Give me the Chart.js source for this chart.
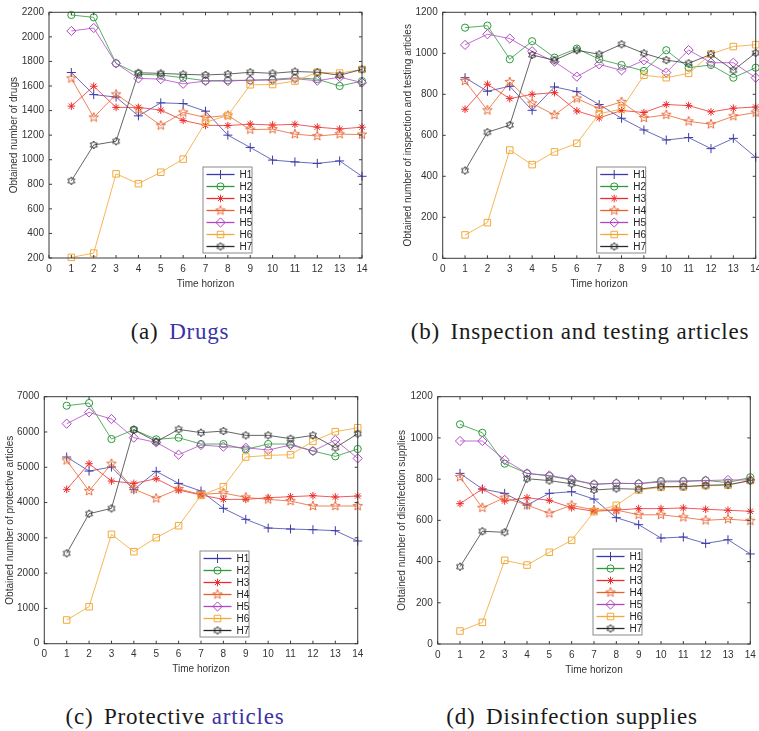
<!DOCTYPE html>
<html><head><meta charset="utf-8">
<script src="https://cdn.jsdelivr.net/npm/chart.js@4.4.1/dist/chart.umd.min.js"></script>
<style>
html,body{margin:0;padding:0;background:#fff;}
body{width:759px;height:731px;position:relative;overflow:hidden;}
canvas{position:absolute;}
.cap{position:absolute;font-family:"Liberation Serif","Times New Roman","DejaVu Serif",serif;font-size:23px;letter-spacing:0.8px;color:#1a1a1a;white-space:nowrap;transform:translateX(-50%);line-height:1;}
.cap .gap{display:inline-block;width:4px;}
.cap .blue{color:#3b32a8;}
</style></head><body>
<canvas id="ca" width="380" height="300" style="left:0px;top:0px"></canvas>
<canvas id="cb" width="400" height="300" style="left:380px;top:0px"></canvas>
<canvas id="cc" width="380" height="310" style="left:0px;top:380px"></canvas>
<canvas id="cd" width="400" height="310" style="left:380px;top:380px"></canvas>
<div class="cap" style="left:180px;top:320px">(a)<span class="gap"></span> <span class="blue">Drugs</span></div>
<div class="cap" style="left:580px;top:320px">(b)<span class="gap"></span> Inspection and testing articles</div>
<div class="cap" style="left:175px;top:705px">(c)<span class="gap"></span> Protective <span class="blue">articles</span></div>
<div class="cap" style="left:572px;top:705px">(d)<span class="gap"></span> Disinfection supplies</div>
<script>
// ---------- data ----------
const timeSteps = [1,2,3,4,5,6,7,8,9,10,11,12,13,14];
const seriesNames = ['H1','H2','H3','H4','H5','H6','H7'];
const xTickLabels = [0,1,2,3,4,5,6,7,8,9,10,11,12,13,14];

// (a) Drugs
const drugsH1 = [1710,1530,1510,1357,1463,1457,1395,1200,1100,997,982,970,990,865];
const drugsH2 = [2178,2159,1784,1697,1689,1667,1643,1646,1646,1654,1667,1656,1600,1640];
const drugsH3 = [1436,1598,1426,1426,1404,1320,1280,1278,1290,1282,1288,1265,1250,1265];
const drugsH4 = [1662,1344,1532,1409,1279,1385,1344,1360,1245,1249,1208,1193,1208,1205];
const drugsH5 = [2048,2072,1784,1662,1656,1618,1640,1640,1648,1648,1659,1643,1672,1628];
const drugsH6 = [205,240,885,805,898,1005,1305,1360,1610,1612,1640,1712,1705,1735];
const drugsH7 = [828,1120,1150,1708,1703,1695,1690,1697,1712,1703,1718,1712,1688,1735];
const drugsYTicks = [200,400,600,800,1000,1200,1400,1600,1800,2000,2200];

// (b) Inspection and testing articles
const inspH1 = [881,815,839,722,836,813,750,683,626,577,589,535,585,493];
const inspH2 = [1125,1135,971,1059,979,1023,971,943,914,1015,930,943,881,930];
const inspH3 = [727,849,779,800,808,719,685,721,711,750,745,714,732,738];
const inspH4 = [865,722,860,756,699,780,730,763,685,700,668,654,693,711];
const inspH5 = [1041,1093,1072,1010,959,886,946,917,966,906,1016,954,954,881];
const inspH6 = [114,174,528,457,519,561,705,728,893,881,902,997,1033,1042];
const inspH7 = [428,615,650,992,966,1015,995,1044,1000,967,951,995,917,1002];
const inspYTicks = [0,200,400,600,800,1000,1200];

// (c) Protective articles
const protH1 = [5290,4893,5007,4364,4884,4544,4327,3836,3524,3278,3250,3231,3203,2910];
const protH2 = [6745,6820,5800,6065,5791,5838,5659,5659,5507,5659,5659,5460,5309,5517];
const protH3 = [4374,5101,4610,4544,4676,4355,4213,4090,4090,4138,4166,4194,4157,4185];
const protH4 = [5196,4327,5101,4383,4119,4383,4232,4270,4147,4090,4043,3902,3902,3902];
const protH5 = [6235,6556,6367,5838,5706,5356,5630,5583,5555,5489,5630,5460,5772,5252];
const protH6 = [671,1049,3099,2607,3004,3344,4204,4449,5290,5337,5356,5734,6008,6121];
const protH7 = [2560,3684,3835,6065,5725,6074,5980,6027,5904,5904,5810,5904,5555,5951];
const protYTicks = [0,1000,2000,3000,4000,5000,6000,7000];

// (d) Disinfection supplies
const disH1 = [828,752,731,674,731,739,703,613,579,514,519,488,506,437];
const disH2 = [1066,1025,875,828,815,796,775,780,778,791,791,794,783,809];
const disH3 = [681,752,694,710,697,661,644,650,657,657,660,654,649,644];
const disH4 = [810,661,710,674,634,673,650,650,627,627,615,600,606,598];
const disH5 = [985,985,893,828,818,799,775,780,778,786,788,793,796,796];
const disH6 = [63,105,406,383,445,503,642,673,747,760,762,768,770,793];
const disH7 = [375,547,542,802,793,777,747,754,751,764,764,770,773,793];
const disYTicks = [0,200,400,600,800,1000,1200];

// ---------- styles ----------
const colors = ['#3a3aa8','#2a9a3a','#ee2a2a','#e8602c','#b048c4','#f2a93a','#2a2a2a'];
const lineColors = ['rgba(70,70,175,0.8)','rgba(45,155,60,0.8)','rgba(238,50,50,0.8)','rgba(232,100,50,0.8)','rgba(176,75,196,0.8)','rgba(242,170,60,0.85)','rgba(50,50,50,0.75)'];

function starCanvas(n, ro, ri, color, size) {
  const c = document.createElement('canvas');
  c.width = size; c.height = size;
  const g = c.getContext('2d');
  g.strokeStyle = color; g.lineWidth = 0.9;
  g.beginPath();
  for (let k = 0; k < n * 2; k++) {
    const r = (k % 2) ? ri : ro;
    const a = -Math.PI / 2 + k * Math.PI / n;
    const px = size / 2 + r * Math.cos(a), py = size / 2 + r * Math.sin(a);
    if (k) g.lineTo(px, py); else g.moveTo(px, py);
  }
  g.closePath(); g.stroke();
  return c;
}
const pentagram = starCanvas(5, 5, 2.1, colors[3], 12);
const hexagram = starCanvas(6, 4, 2.3, colors[6], 10);
const pointStyles = ['cross','circle','star','pent','rectRot','rect','hex'];
const pointRadii = [4.5, 3.6, 3.8, 5, 4.6, 4.6, 5];
function styleOf(i) {
  const s = pointStyles[i];
  if (s === 'pent') return pentagram;
  if (s === 'hex') return hexagram;
  return s;
}

Chart.defaults.font.family = '"Liberation Sans", Arial, Helvetica, sans-serif';
Chart.defaults.color = '#333';

const framePlugin = {
  id: 'frameLegend',
  afterDatasetsDraw(chart) {
    const {ctx, chartArea: a, scales: {x, y}} = chart;
    ctx.save();
    ctx.strokeStyle = '#3a3a3a';
    ctx.lineWidth = 1;
    ctx.strokeRect(a.left, a.top, a.right - a.left, a.bottom - a.top);
    const tl = 3;
    ctx.beginPath();
    x.ticks.forEach(t => {
      const px = x.getPixelForValue(t.value);
      ctx.moveTo(px, a.bottom); ctx.lineTo(px, a.bottom - tl);
      ctx.moveTo(px, a.top); ctx.lineTo(px, a.top + tl);
    });
    y.ticks.forEach(t => {
      const py = y.getPixelForValue(t.value);
      ctx.moveTo(a.left, py); ctx.lineTo(a.left + tl, py);
      ctx.moveTo(a.right, py); ctx.lineTo(a.right - tl, py);
    });
    ctx.stroke();

    // legend
    const lg = chart.options.plugins.frameLegend;
    const bx = a.left + lg.dx, by = a.top + lg.dy, bw = 49, bh = 86;
    ctx.fillStyle = '#fff';
    ctx.fillRect(bx, by, bw, bh);
    ctx.strokeStyle = '#8a8a8a';
    ctx.strokeRect(bx, by, bw, bh);
    ctx.font = '10px "Liberation Sans", Arial, sans-serif';
    ctx.textBaseline = 'middle';
    ctx.textAlign = 'left';
    chart.data.datasets.forEach((ds, i) => {
      const yy = by + 7.5 + 12 * i;
      ctx.strokeStyle = colors[i];
      ctx.lineWidth = 1.3;
      ctx.beginPath(); ctx.moveTo(bx + 3.5, yy); ctx.lineTo(bx + 31.5, yy); ctx.stroke();
      ctx.lineWidth = 1;
      ctx.fillStyle = 'rgba(0,0,0,0)';
      Chart.helpers.drawPoint(ctx, {pointStyle: styleOf(i), radius: pointRadii[i], borderWidth: 1, rotation: 0}, bx + 17.5, yy);
      ctx.fillStyle = '#222';
      ctx.fillText(ds.label, bx + 36.5, yy + 0.5);
    });
    ctx.restore();
  }
};

function makeChart(id, box, area, series, yMin, yMax, yTicks, yTitle, legendPos) {
  const xH = 32;
  const yW = area.l - box.x;
  const titleCenter = area.yt - box.x;
  const datasets = series.map((vals, i) => ({
    label: seriesNames[i],
    data: vals.map((v, k) => ({x: timeSteps[k], y: v})),
    borderColor: lineColors[i],
    backgroundColor: 'rgba(0,0,0,0)',
    borderWidth: 1,
    tension: 0,
    pointStyle: styleOf(i),
    pointRadius: pointRadii[i],
    pointBorderWidth: 1,
    pointBorderColor: colors[i],
    pointBackgroundColor: 'rgba(0,0,0,0)',
    clip: false,
    order: 7 - i
  }));
  return new Chart(document.getElementById(id), {
    type: 'line',
    data: {datasets},
    options: {
      responsive: false,
      animation: false,
      devicePixelRatio: 1,
      events: [],
      layout: {padding: {left: 0, right: box.x + box.w - area.r, top: area.t - box.y, bottom: box.y + box.h - area.b - xH}},
      plugins: {legend: {display: false}, tooltip: {enabled: false}, frameLegend: legendPos},
      scales: {
        x: {
          type: 'linear', min: 0, max: 14,
          afterFit(s) { s.height = xH; s.paddingLeft = 0; s.paddingRight = 0; },
          afterBuildTicks(s) { s.ticks = xTickLabels.map(v => ({value: v})); },
          grid: {display: false, drawTicks: false},
          border: {display: false},
          ticks: {padding: 5, color: '#333', font: {size: 10}, maxRotation: 0, autoSkip: false, callback: v => String(v)},
          title: {display: true, text: 'Time horizon', color: '#333', font: {size: 10}, padding: {top: 0, bottom: 0}}
        },
        y: {
          type: 'linear', min: yMin, max: yMax,
          afterFit(s) { s.width = yW; s.paddingTop = 0; s.paddingBottom = 0; },
          afterBuildTicks(s) { s.ticks = yTicks.map(v => ({value: v})); },
          grid: {display: false, drawTicks: false},
          border: {display: false},
          ticks: {padding: 5, color: '#333', font: {size: 10}, autoSkip: false, callback: v => String(v)},
          title: {display: true, text: yTitle, color: '#333', font: {size: 10}, padding: {top: titleCenter - 6, bottom: 0}}
        }
      }
    },
    plugins: [framePlugin]
  });
}

makeChart('ca', {x: 0, y: 0, w: 380, h: 300}, {l: 49, r: 362, t: 12.3, b: 258, yt: 14},
  [drugsH1, drugsH2, drugsH3, drugsH4, drugsH5, drugsH6, drugsH7], 200, 2200, drugsYTicks,
  'Obtained number of drugs', {dx: 154, dy: 154.7});
makeChart('cb', {x: 380, y: 0, w: 400, h: 300}, {l: 442.7, r: 755.7, t: 12.3, b: 258.3, yt: 408},
  [inspH1, inspH2, inspH3, inspH4, inspH5, inspH6, inspH7], 0, 1200, inspYTicks,
  'Obtained number of inspection and testing articles', {dx: 154, dy: 154.7});
makeChart('cc', {x: 0, y: 380, w: 380, h: 310}, {l: 44.3, r: 357.7, t: 396.7, b: 643.7, yt: 10},
  [protH1, protH2, protH3, protH4, protH5, protH6, protH7], 0, 7000, protYTicks,
  'Obtained number of protective articles', {dx: 155.7, dy: 154.3});
makeChart('cd', {x: 380, y: 380, w: 400, h: 310}, {l: 437.7, r: 750.3, t: 396.7, b: 644, yt: 402.7},
  [disH1, disH2, disH3, disH4, disH5, disH6, disH7], 0, 1200, disYTicks,
  'Obtained number of disinfection supplies', {dx: 155.3, dy: 152.3});
</script>
</body></html>
